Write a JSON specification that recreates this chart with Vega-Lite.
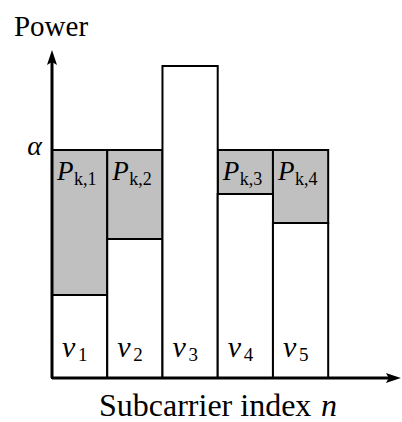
{
  "$schema": "https://vega.github.io/schema/vega-lite/v6.json",
  "autosize": "none",
  "width": 348,
  "height": 342,
  "padding": {"left": 52, "top": 36, "right": 2, "bottom": 44},
  "background": "white",
  "config": {"view": {"stroke": null}, "text": {"font": "Liberation Serif, Times New Roman, serif"}},
  "datasets": {
    "bars": [
      {"n": 1, "x0": 0, "x1": 1, "v": 0.364, "alpha": 1},
      {"n": 2, "x0": 1, "x1": 2, "v": 0.61, "alpha": 1},
      {"n": 3, "x0": 2, "x1": 3, "v": 1.368, "alpha": 1},
      {"n": 4, "x0": 3, "x1": 4, "v": 0.807, "alpha": 1},
      {"n": 5, "x0": 4, "x1": 5, "v": 0.68, "alpha": 1}
    ],
    "plabels": [
      {"x0": 0, "sub": "k,1"},
      {"x0": 1, "sub": "k,2"},
      {"x0": 3, "sub": "k,3"},
      {"x0": 4, "sub": "k,4"}
    ],
    "vlabels": [
      {"x0": 0, "sub": "1"},
      {"x0": 1, "sub": "2"},
      {"x0": 2, "sub": "3"},
      {"x0": 3, "sub": "4"},
      {"x0": 4, "sub": "5"}
    ]
  },
  "layer": [
    {
      "data": {"name": "bars"},
      "transform": [{"filter": "datum.v < datum.alpha"}],
      "mark": {"type": "rect", "fill": "#c0c0c0", "stroke": "black", "strokeWidth": 2},
      "encoding": {
        "x": {"field": "x0", "type": "quantitative", "scale": {"domain": [0, 6.3], "nice": false, "zero": false}, "axis": null},
        "x2": {"field": "x1"},
        "y": {"field": "v", "type": "quantitative", "scale": {"domain": [0, 1.5], "nice": false}, "axis": null},
        "y2": {"field": "alpha"}
      }
    },
    {
      "data": {"name": "bars"},
      "mark": {"type": "rect", "fill": "white", "stroke": "black", "strokeWidth": 2},
      "encoding": {
        "x": {"field": "x0", "type": "quantitative"},
        "x2": {"field": "x1"},
        "y": {"field": "v", "type": "quantitative"},
        "y2": {"datum": 0}
      }
    },
    {
      "data": {"values": [{"a": 0}]},
      "mark": {"type": "rule", "stroke": "black", "strokeWidth": 3},
      "encoding": {
        "x": {"datum": 0, "type": "quantitative"},
        "y": {"datum": 0, "type": "quantitative"},
        "y2": {"datum": 1.4}
      }
    },
    {
      "data": {"values": [{"a": 0}]},
      "mark": {"type": "rule", "stroke": "black", "strokeWidth": 3},
      "encoding": {
        "x": {"datum": 0, "type": "quantitative"},
        "x2": {"datum": 6.2},
        "y": {"datum": 0, "type": "quantitative"}
      }
    },
    {
      "data": {"values": [{"a": 0}]},
      "mark": {"type": "point", "shape": "M0,-1L0.67,1L0,0.6L-0.67,1Z", "filled": true, "fill": "black", "strokeWidth": 0, "size": 225, "opacity": 1},
      "encoding": {
        "x": {"datum": 0, "type": "quantitative"},
        "y": {"datum": 1.406, "type": "quantitative"}
      }
    },
    {
      "data": {"values": [{"a": 0}]},
      "mark": {"type": "point", "shape": "M1,0L-1,0.67L-0.6,0L-1,-0.67Z", "filled": true, "fill": "black", "strokeWidth": 0, "size": 225, "opacity": 1},
      "encoding": {
        "x": {"datum": 6.18, "type": "quantitative"},
        "y": {"datum": 0, "type": "quantitative"}
      }
    },
    {
      "data": {"name": "plabels"},
      "mark": {"type": "text", "text": "P", "fontStyle": "italic", "fontSize": 27, "align": "left", "baseline": "alphabetic", "dx": 5, "color": "black"},
      "encoding": {
        "x": {"field": "x0", "type": "quantitative"},
        "y": {"datum": 0.868, "type": "quantitative"}
      }
    },
    {
      "data": {"name": "plabels"},
      "mark": {"type": "text", "fontSize": 18, "align": "left", "baseline": "alphabetic", "dx": 22, "color": "black"},
      "encoding": {
        "x": {"field": "x0", "type": "quantitative"},
        "y": {"datum": 0.846, "type": "quantitative"},
        "text": {"field": "sub"}
      }
    },
    {
      "data": {"name": "vlabels"},
      "mark": {"type": "text", "text": "v", "fontStyle": "italic", "fontSize": 30, "align": "left", "baseline": "alphabetic", "dx": 10, "color": "black"},
      "encoding": {
        "x": {"field": "x0", "type": "quantitative"},
        "y": {"datum": 0.092, "type": "quantitative"}
      }
    },
    {
      "data": {"name": "vlabels"},
      "mark": {"type": "text", "fontSize": 19, "align": "left", "baseline": "alphabetic", "dx": 26, "color": "black"},
      "encoding": {
        "x": {"field": "x0", "type": "quantitative"},
        "y": {"datum": 0.075, "type": "quantitative"},
        "text": {"field": "sub"}
      }
    },
    {
      "data": {"values": [{"label": "α"}]},
      "mark": {"type": "text", "fontStyle": "italic", "fontSize": 28, "align": "left", "baseline": "alphabetic", "color": "black"},
      "encoding": {
        "x": {"datum": -0.45, "type": "quantitative"},
        "y": {"datum": 0.978, "type": "quantitative"},
        "text": {"field": "label"}
      }
    },
    {
      "data": {"values": [{"label": "Power"}]},
      "mark": {"type": "text", "fontSize": 29, "align": "left", "baseline": "alphabetic", "color": "black"},
      "encoding": {
        "x": {"datum": -0.688, "type": "quantitative"},
        "y": {"datum": 1.5, "type": "quantitative"},
        "text": {"field": "label"}
      }
    },
    {
      "data": {"values": [{"label": "Subcarrier index"}]},
      "mark": {"type": "text", "fontSize": 32, "align": "left", "baseline": "alphabetic", "color": "black"},
      "encoding": {
        "x": {"datum": 0.851, "type": "quantitative"},
        "y": {"datum": -0.167, "type": "quantitative"},
        "text": {"field": "label"}
      }
    },
    {
      "data": {"values": [{"label": "n"}]},
      "mark": {"type": "text", "fontStyle": "italic", "fontSize": 32, "align": "right", "baseline": "alphabetic", "color": "black"},
      "encoding": {
        "x": {"datum": 5.16, "type": "quantitative"},
        "y": {"datum": -0.167, "type": "quantitative"},
        "text": {"field": "label"}
      }
    }
  ]
}
